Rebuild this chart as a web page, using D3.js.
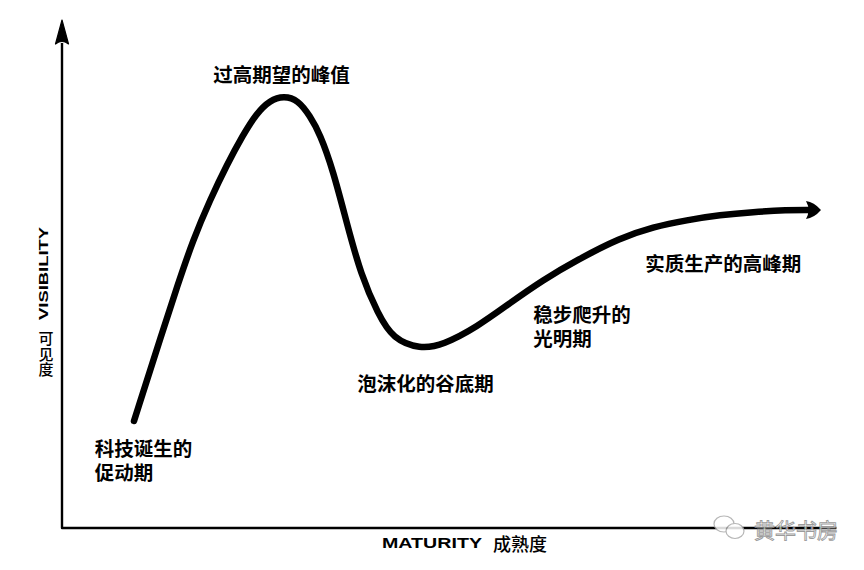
<!DOCTYPE html>
<html>
<head>
<meta charset="utf-8">
<script src="https://cdn.jsdelivr.net/npm/d3@7"></script>
<style>
  html, body { margin: 0; padding: 0; background: #fff; }
  svg { display: block; }
</style>
</head>
<body>
<svg id="chart" width="864" height="570"></svg>
<script>
// ---- Data (maturity 0-100 on x, visibility 0-100 on y) ----
const maturity   = [9.0, 12.625, 14.375, 16.375, 18.5, 20.625, 22.625, 24.25, 26.0, 27.75, 29.5, 31.0, 32.25, 33.875, 35.625, 37.375, 39.5, 41.375, 44.75, 47.625, 51.875, 56.0, 60.125, 64.375, 69.75, 73.875, 78.125, 82.25, 86.375, 90.625, 93.5];
const visibility = [21.2, 39.4, 48.0, 57.4, 65.4, 72.5, 78.4, 82.6, 85.4, 86.2, 85.4, 82.2, 78.6, 71.4, 60.6, 50.4, 42.6, 37.6, 35.6, 36.4, 40.0, 44.8, 49.4, 53.4, 57.8, 60.0, 61.4, 62.4, 63.0, 63.4, 63.4];

const phaseNames = ["过高期望的峰值", "泡沫化的谷底期", "实质生产的高峰期"];
const phaseX     = [18.9, 36.9, 72.9];
const phaseY     = [90.8, 29.0, 53.0];

const twoLineNames = [["科技诞生的", "促动期"], ["稳步爬升的", "光明期"]];
const twoLineX     = [4.1, 58.9];
const twoLineY     = [16.0, 42.8];

const xAxisLatin = "MATURITY";
const xAxisCJK   = "成熟度";
const yAxisLatin = "VISIBILITY";
const yAxisCJK   = "可见度";
const watermark  = "黄华书房";

// ---- Scales ----
const svg = d3.select("#chart");
const x = d3.scaleLinear().domain([0, 100]).range([62, 862]);
const y = d3.scaleLinear().domain([0, 100]).range([527, 27]);

// ---- Axes ----
const axisG = svg.append("g");
axisG.append("path")
  .attr("d", `M${x(0)},${y(96.8)} L${x(0)},${y(-0.2)} L${x(96.8)},${y(-0.2)}`)
  .attr("fill", "none").attr("stroke", "#000").attr("stroke-width", 2.4)
  .attr("stroke-linejoin", "round");
axisG.append("path")
  .attr("d", `M${x(0)},${y(101.4)} L${x(0) + 6.5},${y(96.6)} Q${x(0)},${y(97.6)} ${x(0) - 6.5},${y(96.6)} Z`)
  .attr("fill", "#000").attr("stroke", "#000").attr("stroke-width", 1.2).attr("stroke-linejoin", "round");

// ---- Curve ----
const pts = maturity.map((m, i) => [m, visibility[i]]);
const line = d3.line().x(d => x(d[0])).y(d => y(d[1])).curve(d3.curveBasis);

svg.append("defs").append("marker")
  .attr("id", "arrow")
  .attr("viewBox", "0 -10 16 20")
  .attr("refX", 4).attr("refY", 0)
  .attr("markerWidth", 16).attr("markerHeight", 20)
  .attr("markerUnits", "userSpaceOnUse")
  .attr("orient", "auto")
  .append("path")
  .attr("d", "M0,-9 Q8,-8 15,0 Q8,8 0,9 Q5,0 0,-9 Z")
  .attr("fill", "#000");

svg.append("path")
  .datum(pts)
  .attr("d", line)
  .attr("fill", "none")
  .attr("stroke", "#000")
  .attr("stroke-width", 6.5)
  .attr("stroke-linecap", "round")
  .attr("stroke-linejoin", "round")
  .attr("marker-end", "url(#arrow)");

// ---- Phase labels ----
const labelFont = "'Noto Sans CJK SC', 'Noto Sans', sans-serif";
phaseNames.forEach((t, i) => {
  svg.append("text")
    .attr("x", x(phaseX[i])).attr("y", y(phaseY[i]))
    .attr("dominant-baseline", "central")
    .attr("font-family", labelFont).attr("font-weight", 700).attr("font-size", 19.5)
    .attr("fill", "#000")
    .text(t);
});
twoLineNames.forEach((lines, i) => {
  const t = svg.append("text")
    .attr("x", x(twoLineX[i])).attr("y", y(twoLineY[i]))
    .attr("dominant-baseline", "central")
    .attr("font-family", labelFont).attr("font-weight", 700).attr("font-size", 19.5)
    .attr("fill", "#000");
  lines.forEach((s, j) => {
    t.append("tspan")
      .attr("x", x(twoLineX[i]))
      .attr("dy", j === 0 ? 0 : 24)
      .text(s);
  });
});

// ---- Axis titles ----
svg.append("text")
  .attr("x", 382).attr("y", 547.5)
  .attr("font-family", "'Liberation Sans', Arial, sans-serif").attr("font-weight", 700).attr("font-size", 15)
  .attr("textLength", 100).attr("lengthAdjust", "spacingAndGlyphs")
  .text(xAxisLatin);
svg.append("text")
  .attr("x", 493).attr("y", 551)
  .attr("font-family", labelFont).attr("font-weight", 500).attr("font-size", 18)
  .text(xAxisCJK);

svg.append("text")
  .attr("transform", "translate(48,320) rotate(-90)")
  .attr("font-family", "'Liberation Sans', Arial, sans-serif").attr("font-weight", 700).attr("font-size", 12.5)
  .attr("textLength", 93).attr("lengthAdjust", "spacingAndGlyphs")
  .text(yAxisLatin);
svg.append("text")
  .attr("x", 46).attr("y", 331)
  .attr("writing-mode", "vertical-rl")
  .style("writing-mode", "vertical-rl")
  .attr("letter-spacing", 0.5)
  .attr("font-family", labelFont).attr("font-weight", 500).attr("font-size", 15)
  .text(yAxisCJK);

// ---- Watermark ----
const wm = svg.append("g").attr("opacity", 0.85);
wm.append("ellipse").attr("cx", 724).attr("cy", 524).attr("rx", 10).attr("ry", 8)
  .attr("fill", "#fff").attr("stroke", "#aaa").attr("stroke-width", 1.2);
wm.append("ellipse").attr("cx", 735).attr("cy", 531).attr("rx", 9).attr("ry", 7.5)
  .attr("fill", "#fff").attr("stroke", "#aaa").attr("stroke-width", 1.2);
wm.append("text")
  .attr("x", 754).attr("y", 538)
  .attr("font-family", labelFont).attr("font-weight", 400).attr("font-size", 21)
  .attr("fill", "#fff").attr("stroke", "#8a8a8a").attr("stroke-width", 0.9)
  .text(watermark);
</script>
</body>
</html>
